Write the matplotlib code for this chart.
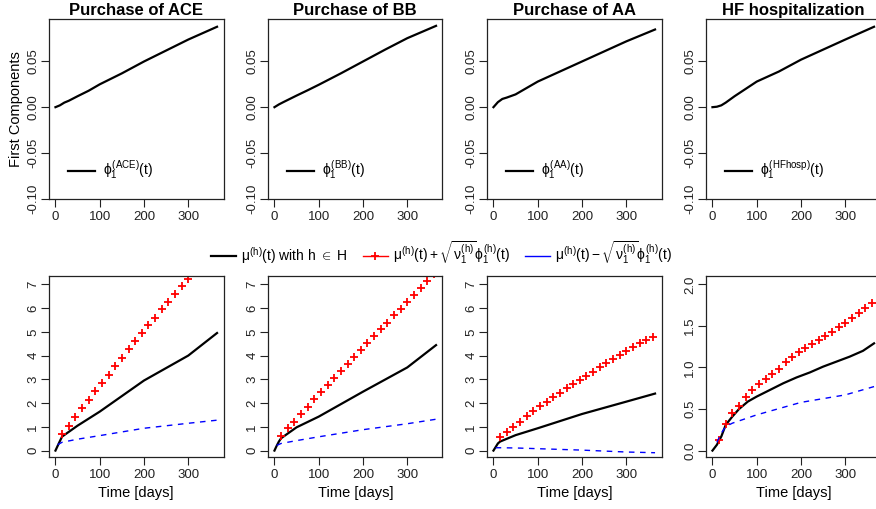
import numpy as np
import matplotlib
matplotlib.use("Agg")
import matplotlib.pyplot as plt
from matplotlib.ticker import FixedLocator, FormatStrFormatter

plt.rcParams['font.family'] = ['Liberation Sans', 'DejaVu Sans']
plt.rcParams['mathtext.fontset'] = 'custom'
plt.rcParams['mathtext.rm'] = 'Liberation Sans'
plt.rcParams['mathtext.it'] = 'Liberation Sans'
plt.rcParams['mathtext.bf'] = 'Liberation Sans:bold'

#####################################################################
# Data                               #
#####################################################################
panelTitles = ["Purchase of ACE", "Purchase of BB", "Purchase of AA",
               "HF hospitalization"]
phiNames = ["ACE", "BB", "AA", "HFhosp"]

# first eigenfunctions (top row)
tPhi = [0, 10, 20, 30, 50, 75, 100, 150, 200, 250, 300, 365]
phiACE = [0.000, 0.002, 0.005, 0.007, 0.012, 0.018, 0.025, 0.037,
          0.050, 0.062, 0.074, 0.088]
phiBB = [0.000, 0.003, 0.0055, 0.0079, 0.0127, 0.0185, 0.0245, 0.037,
         0.050, 0.063, 0.0755, 0.089]
phiAA = [0.000, 0.0055, 0.009, 0.0105, 0.014, 0.021, 0.028, 0.039,
         0.050, 0.061, 0.072, 0.085]
phiHF = [0.000, 0.0005, 0.002, 0.005, 0.012, 0.020, 0.028, 0.039,
         0.052, 0.063, 0.074, 0.088]

# mean functions (bottom row, black)
tMeanACE = [0, 5, 10, 15, 50, 100, 200, 300, 365]
meanACE = [0.00, 0.20, 0.40, 0.59, 1.05, 1.64, 2.95, 4.00, 4.95]
tMeanBB = [0, 5, 10, 15, 50, 100, 200, 300, 365]
meanBB = [0.00, 0.20, 0.38, 0.52, 0.98, 1.43, 2.48, 3.50, 4.44]
tMeanAA = [0, 5, 10, 15, 50, 100, 200, 300, 365]
meanAA = [0.00, 0.15, 0.30, 0.38, 0.65, 0.94, 1.54, 2.06, 2.40]
tMeanHF = [0, 10, 20, 30, 45, 60, 80, 100, 130, 160, 190, 220, 250,
           280, 310, 340, 365]
meanHF = [0.00, 0.07, 0.17, 0.31, 0.41, 0.50, 0.59, 0.65, 0.73, 0.81,
          0.88, 0.94, 1.01, 1.07, 1.13, 1.20, 1.29]

# mean + sqrt(nu) * phi (red crosses every 15 days)
tPlus = [15, 30, 45, 60, 75, 90, 105, 120, 135, 150, 165, 180, 195,
         210, 225, 240, 255, 270, 285, 300, 315, 330, 345, 360]
plusACE = [0.70, 1.04, 1.43, 1.78, 2.13, 2.51, 2.83, 3.18, 3.56, 3.91,
           4.26, 4.61, 4.96, 5.28, 5.60, 5.94, 6.26, 6.58, 6.92, 7.24,
           7.57, 7.89, 8.20, 8.52]
plusBB = [0.62, 0.94, 1.22, 1.54, 1.85, 2.16, 2.45, 2.76, 3.04, 3.35,
          3.64, 3.95, 4.23, 4.54, 4.82, 5.11, 5.39, 5.70, 5.98, 6.26,
          6.54, 6.85, 7.14, 7.43]
plusAA = [0.59, 0.80, 1.01, 1.22, 1.47, 1.68, 1.88, 2.06, 2.27, 2.44,
          2.62, 2.80, 2.97, 3.14, 3.32, 3.50, 3.67, 3.84, 4.02, 4.19,
          4.34, 4.51, 4.65, 4.79]
plusHF = [0.13, 0.32, 0.45, 0.54, 0.64, 0.73, 0.80, 0.86, 0.92, 0.98,
          1.06, 1.12, 1.18, 1.23, 1.28, 1.33, 1.38, 1.43, 1.49, 1.54,
          1.60, 1.65, 1.71, 1.77]

# mean - sqrt(nu) * phi (blue dashed)
tMinus = [5, 15, 50, 100, 200, 300, 365]
minusACE = [0.25, 0.35, 0.48, 0.63, 0.94, 1.15, 1.28]
minusBB = [0.22, 0.30, 0.42, 0.58, 0.88, 1.13, 1.32]
minusAA = [0.12, 0.12, 0.11, 0.08, 0.02, -0.06, -0.09]
tMinusHF = [10, 20, 30, 45, 100, 200, 300, 365]
minusHF = [0.10, 0.21, 0.29, 0.33, 0.43, 0.58, 0.67, 0.77]

phiSeries = [phiACE, phiBB, phiAA, phiHF]
meanSeries = [(tMeanACE, meanACE), (tMeanBB, meanBB),
              (tMeanAA, meanAA), (tMeanHF, meanHF)]
plusSeries = [plusACE, plusBB, plusAA, plusHF]
minusSeries = [(tMinus, minusACE), (tMinus, minusBB), (tMinus, minusAA),
               (tMinusHF, minusHF)]

xTicks = [0, 100, 200, 300]
phiTicks = [-0.10, -0.05, 0.00, 0.05]
meanTicks = [[0, 1, 2, 3, 4, 5, 6, 7]] * 3 + [[0.0, 0.5, 1.0, 1.5, 2.0]]
meanYlims = [(-0.27, 7.35)] * 3 + [(-0.077, 2.1)]
meanFormats = ["%d"] * 3 + ["%.1f"]

#####################################################################
# R base-graphics look for one panel                                #
#####################################################################
def styleAxes(ax, yTicks, yFmt):
    ax.set_xlim(-14.6, 379.6)
    ax.xaxis.set_major_locator(FixedLocator(xTicks))
    ax.yaxis.set_major_locator(FixedLocator(yTicks))
    ax.yaxis.set_major_formatter(FormatStrFormatter(yFmt))
    ax.tick_params(direction='out', length=5.5, width=0.8, labelsize=9.5,
                   colors='#222222')
    ax.tick_params(axis='x', pad=3.5)
    ax.tick_params(axis='y', pad=1.5)
    for lab in ax.get_yticklabels():
        lab.set_rotation(90)
        lab.set_va('center')
    for sp in ax.spines.values():
        sp.set_linewidth(0.9)
        sp.set_color('#222222')


fig = plt.figure(figsize=(8.76, 5.09), dpi=100)
W, H = 876.0, 509.0
panelW = 174.5
lefts = [49, 268, 487, 706]

for i in range(4):
    axT = fig.add_axes([lefts[i] / W, 1 - 199 / H, panelW / W, 180 / H])
    axB = fig.add_axes([lefts[i] / W, 1 - 457 / H, panelW / W, 181 / H])

    # top row: first eigenfunction
    axT.plot(tPhi, phiSeries[i], color='black', lw=1.6,
             label=r'$\phi_1^{(' + phiNames[i] + r')}(t)$')
    axT.set_ylim(-0.1005, 0.0965)
    styleAxes(axT, phiTicks, "%.2f")
    axT.set_title(panelTitles[i], fontsize=12, fontweight='bold', pad=3)
    axT.legend(loc='center left', bbox_to_anchor=(0.109, 0.156),
               frameon=False, fontsize=10, handlelength=1.95,
               handletextpad=0.6, borderpad=0, borderaxespad=0)

    # bottom row: mean and mean +/- sqrt(nu) phi
    tM, yM = meanSeries[i]
    axB.plot(tM, yM, color='black', lw=1.6)
    axB.plot(tPlus, plusSeries[i], linestyle='none', marker='+',
             color='red', markersize=5.2, markeredgewidth=1.3)
    tN, yN = minusSeries[i]
    axB.plot(tN, yN, color='blue', lw=1.0, linestyle=(0, (4, 4)))
    axB.set_ylim(*meanYlims[i])
    styleAxes(axB, meanTicks[i], meanFormats[i])
    axB.set_xlabel("Time [days]", fontsize=10.5, labelpad=3)

fig.text(16 / W, 1 - 109.5 / H, "First Components", rotation=90,
         ha='center', va='center', fontsize=10.5)

# shared legend between the rows
hMean, = fig.axes[1].plot([], [], color='black', lw=1.6)
hPlus, = fig.axes[1].plot([], [], color='red', lw=1.0, marker='+',
                          markersize=5.2, markeredgewidth=1.3)
hMinus, = fig.axes[1].plot([], [], color='blue', lw=1.0)
fig.legend([hMean, hPlus, hMinus],
           [r'$\mu^{(h)}(t)$ with h ${\in}$ H',
            r'$\mu^{(h)}(t) + \sqrt{\nu_1^{(h)}}\phi_1^{(h)}(t)$',
            r'$\mu^{(h)}(t) - \sqrt{\nu_1^{(h)}}\phi_1^{(h)}(t)$'],
           loc='center left', bbox_to_anchor=(211 / W, 1 - 253 / H),
           ncol=3, frameon=False, fontsize=10, handlelength=1.8,
           handletextpad=0.35, columnspacing=1.1, numpoints=1,
           borderpad=0, borderaxespad=0)

fig.savefig("out.png", dpi=100)
